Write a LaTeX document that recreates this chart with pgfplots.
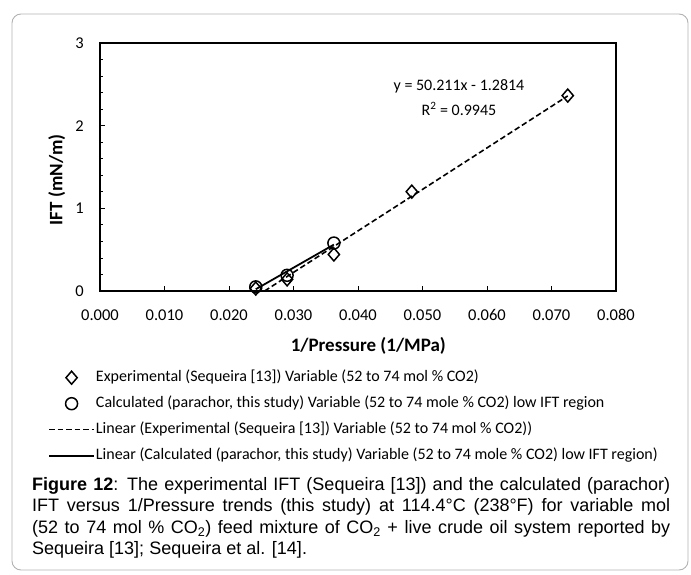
\documentclass[border=0pt]{standalone}
\usepackage{pgfplots}
\pgfplotsset{compat=1.18}
\usepackage{fontspec}
\setmainfont{Carlito}
\newfontfamily\capfont{Liberation Sans}

\begin{document}
\begin{tikzpicture}[x=1pt,y=1pt]
\useasboundingbox (0,0) rectangle (691,574);
\draw[color=gray!60, line width=0.9pt, rounded corners=9pt] (12,4) rectangle (688,560);
\begin{axis}[
  at={(100pt,283pt)}, anchor=south west,
  scale only axis, width=516pt, height=248pt,
  xmin=0, xmax=0.08, ymin=0, ymax=3,
  scaled x ticks=false, scaled y ticks=false,
  xtick={0,0.01,0.02,0.03,0.04,0.05,0.06,0.07,0.08},
  xticklabels={0.000,0.010,0.020,0.030,0.040,0.050,0.060,0.070,0.080},
  ytick={0,1,2,3}, yticklabels={0,1,2,3},
  minor y tick num=4,
  tick align=inside, xtick pos=left, ytick pos=left,
  major tick length=5pt, minor tick length=3pt,
  every tick/.style={black, line width=0.8pt},
  axis line style={line width=1.5pt},
  xticklabel style={anchor=base, inner sep=0pt, yshift=-29.5pt, font=\fontsize{16.5}{18}\selectfont},
  yticklabel style={anchor=base east, inner sep=0pt, xshift=-16pt, yshift=-5.5pt, font=\fontsize{16.5}{18}\selectfont},
  xlabel={1/Pressure (1/MPa)},
  xlabel style={at={(axis description cs:0.52,-0.22)}, anchor=center, font=\bfseries\fontsize{19}{22}\selectfont},
  ylabel={IFT (mN/m)},
  ylabel style={at={(axis description cs:-0.084,0.448)}, anchor=center, font=\bfseries\fontsize{19}{22}\selectfont},
  legend cell align=left,
  legend style={at={(axis description cs:-0.1008,-0.3145)}, anchor=north west, draw=none, fill=none,
    font=\fontsize{16}{18}\selectfont, inner sep=0pt, row sep=9pt,
    nodes={inner sep=1pt, text height=11pt, text depth=4pt}},
  legend image code/.code={\draw[mark repeat=2,mark phase=2,#1] plot coordinates {(0pt,0pt) (22.5pt,0pt) (45pt,0pt)};},
  clip=true,
]
\addplot[only marks, mark=diamond, mark size=6.5pt, mark options={xscale=1.15, line width=1.5pt, black}]
  coordinates {(0.02415,0.03) (0.02901,0.141) (0.03626,0.442) (0.04834,1.202) (0.07252,2.364)};
\addlegendentry{Experimental (Sequeira [13]) Variable (52 to 74 mol \% CO2)}
\addplot[only marks, mark=o, mark size=6pt, mark options={line width=1.5pt, black}]
  coordinates {(0.02415,0.05) (0.02901,0.19) (0.03626,0.58)};
\addlegendentry{Calculated (parachor, this study) Variable (52 to 74 mole \% CO2) low IFT region}
\addplot[black, line width=1.6pt, dash pattern=on 5.5pt off 3pt]
  coordinates {(0.02552,0) (0.07252,2.360)};
\addlegendentry{Linear (Experimental (Sequeira [13]) Variable (52 to 74 mol \% CO2))}
\addplot[black, line width=1.8pt]
  coordinates {(0.02415,0.021) (0.03626,0.561)};
\addlegendentry{Linear (Calculated (parachor, this study) Variable (52 to 74 mole \% CO2) low IFT region)}
\node[font=\fontsize{16}{18}\selectfont] at (axis cs:0.05566,2.471) {y = 50.211x - 1.2814};
\node[font=\fontsize{16}{18}\selectfont] at (axis cs:0.05566,2.2016) {R\textsuperscript{2} = 0.9945};
\end{axis}
\node[anchor=north west, inner sep=0pt, text width=638pt, align=justify,
  font=\capfont\fontsize{18}{21.5}\selectfont] at (32,97)
{\textbf{Figure 12}: The experimental IFT (Sequeira [13]) and the calculated (parachor)\linebreak
IFT versus 1/Pressure trends (this study) at 114.4°C (238°F) for variable mol\linebreak
(52 to 74 mol \% CO\textsubscript{2}) feed mixture of CO\textsubscript{2} + live crude oil system reported by\linebreak
Sequeira [13]; Sequeira et al. [14].};
\end{tikzpicture}
\end{document}
